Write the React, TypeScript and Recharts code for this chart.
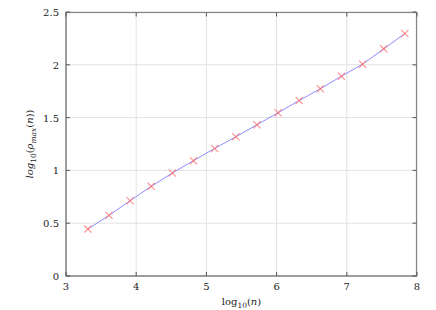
import { LineChart, Line, XAxis, YAxis, CartesianGrid } from 'recharts';

// log10(n) for n = 2^11 .. 2^26
const logN = [3.311, 3.612, 3.913, 4.214, 4.515, 4.816, 5.118, 5.419, 5.72, 6.021, 6.322, 6.623, 6.924, 7.225, 7.526, 7.827];
const logRho = [0.444, 0.574, 0.713, 0.849, 0.975, 1.092, 1.208, 1.318, 1.432, 1.546, 1.662, 1.773, 1.892, 2.006, 2.151, 2.296];

const xTicks = [3, 4, 5, 6, 7, 8];
const yTicks = [0, 0.5, 1, 1.5, 2, 2.5];

const data = logN.map((x, i) => ({ x, y: logRho[i] }));

const W = 436;
const H = 310;
const MARGIN = { top: 12, right: 19, bottom: 4, left: 6 };
const PLOT_TOP = MARGIN.top + 0.5;
const PLOT_RIGHT = W - MARGIN.right - 0.5;

const FONT = "'DejaVu Serif', serif";
const FRAME = '#888888';
const TICK = '#555555';
const textStyle = { fontFamily: FONT, fontSize: 10, fill: '#222' };

// bottom tick: inward tick at bottom + mirrored tick on the top border
function BottomTick({ x, y, payload }: any) {
  return (
    <g>
      <line x1={x} y1={y} x2={x} y2={y - 4} stroke={TICK} strokeWidth={1} />
      <line x1={x} y1={PLOT_TOP} x2={x} y2={PLOT_TOP + 4} stroke={TICK} strokeWidth={1} />
      <text x={x} y={y + 14} textAnchor="middle" fontFamily={FONT} style={textStyle}>
        {payload.value}
      </text>
    </g>
  );
}

// left tick: inward tick at left + mirrored tick on the right border
function LeftTick({ x, y, payload }: any) {
  return (
    <g>
      <line x1={x} y1={y} x2={x + 4} y2={y} stroke={TICK} strokeWidth={1} />
      <line x1={PLOT_RIGHT} y1={y} x2={PLOT_RIGHT - 4} y2={y} stroke={TICK} strokeWidth={1} />
      <text x={x - 7} y={y + 4} textAnchor="end" fontFamily={FONT} style={textStyle}>
        {payload.value}
      </text>
    </g>
  );
}

function CrossDot({ cx, cy }: any) {
  if (cx == null || cy == null) return null;
  const r = 3.6;
  return (
    <g stroke="#ff6a6a" strokeWidth={1.1} strokeOpacity={0.75}>
      <line x1={cx - r} y1={cy - r} x2={cx + r} y2={cy + r} />
      <line x1={cx - r} y1={cy + r} x2={cx + r} y2={cy - r} />
    </g>
  );
}

// x label, also draws the top/right border of the plot frame
function XLabel({ viewBox }: any) {
  const cx = viewBox.x + viewBox.width / 2;
  return (
    <g>
      <rect
        x={viewBox.x}
        y={PLOT_TOP}
        width={PLOT_RIGHT - viewBox.x}
        height={viewBox.y - PLOT_TOP}
        fill="none"
        stroke={FRAME}
        strokeWidth={1.2}
      />
      <text x={cx} y={viewBox.y + 29} textAnchor="middle" fontFamily={FONT} style={textStyle}>
        <tspan>log</tspan>
        <tspan fontSize={7.5} dy={3}>10</tspan>
        <tspan dy={-3}>(</tspan>
        <tspan fontStyle="italic">n</tspan>
        <tspan>)</tspan>
      </text>
    </g>
  );
}

function YLabel({ viewBox }: any) {
  const cx = 33;
  const cy = viewBox.y + viewBox.height / 2;
  return (
    <text x={cx} y={cy} textAnchor="middle" fontFamily={FONT} style={textStyle} transform={`rotate(-90 ${cx} ${cy})`}>
      <tspan fontStyle="italic">log</tspan>
      <tspan fontSize={7.5} dy={3}>10</tspan>
      <tspan dy={-3}>(</tspan>
      <tspan fontStyle="italic">ρ</tspan>
      <tspan fontSize={7.5} fontStyle="italic" dy={3}>max</tspan>
      <tspan dy={-3}>(</tspan>
      <tspan fontStyle="italic">n</tspan>
      <tspan>))</tspan>
    </text>
  );
}

export default function App() {
  return (
    <div style={{ position: 'absolute', left: 0, top: 0, background: '#fff' }}>
      <LineChart width={W} height={H} data={data} margin={MARGIN}>
        <CartesianGrid stroke="#e2e2e2" strokeWidth={1} />
        <XAxis
          dataKey="x"
          type="number"
          domain={[3, 8]}
          ticks={xTicks}
          height={30}
          tickSize={0}
          tickMargin={0}
          axisLine={{ stroke: FRAME }}
          tick={<BottomTick />}
          label={{ content: XLabel }}
        />
        <YAxis
          type="number"
          domain={[0, 2.5]}
          ticks={yTicks}
          width={60}
          tickSize={0}
          tickMargin={0}
          axisLine={{ stroke: FRAME }}
          tick={<LeftTick />}
          label={{ content: YLabel }}
        />
        <Line
          type="linear"
          dataKey="y"
          stroke="#8c8cff"
          strokeWidth={1}
          dot={<CrossDot />}
          activeDot={false}
          isAnimationActive={false}
        />
      </LineChart>
    </div>
  );
}
